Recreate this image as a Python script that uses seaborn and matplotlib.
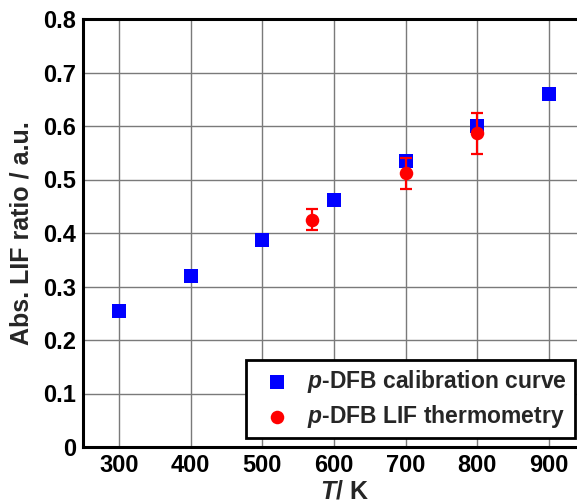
import matplotlib
matplotlib.use("Agg")
import matplotlib.pyplot as plt
import seaborn as sns
import pandas as pd

# Calibration curve (absolute LIF ratio vs temperature)
calib_T = [300, 400, 500, 600, 700, 800, 900]
calib_ratio = [0.255, 0.320, 0.386, 0.462, 0.535, 0.600, 0.660]

# LIF thermometry measurements with uncertainty
thermo_T = [570, 700, 800]
thermo_ratio = [0.425, 0.512, 0.586]
thermo_err = [0.020, 0.029, 0.039]

x_ticks = [300, 400, 500, 600, 700, 800, 900]
y_ticks = [0, 0.1, 0.2, 0.3, 0.4, 0.5, 0.6, 0.7, 0.8]
y_ticklabels = ["0", "0.1", "0.2", "0.3", "0.4", "0.5", "0.6", "0.7", "0.8"]

sns.set_style("white")
plt.rcParams["font.family"] = ["Liberation Sans", "DejaVu Sans"]
plt.rcParams["font.weight"] = "bold"
plt.rcParams["mathtext.fontset"] = "custom"
plt.rcParams["mathtext.it"] = "Liberation Sans:bold:italic"
plt.rcParams["mathtext.rm"] = "Liberation Sans:bold"
plt.rcParams["mathtext.bf"] = "Liberation Sans:bold"

W, H = 577, 503
fig = plt.figure(figsize=(W / 100, H / 100), dpi=100)
# axes runs past the right edge of the figure; x scale ~0.717 px per K
x_lo, x_hi = 250, 980
left_px, bottom_px, top_px = 83, 447, 19
width_px = (x_hi - x_lo) * 0.717
ax = fig.add_axes([left_px / W, 1 - bottom_px / H, width_px / W, (bottom_px - top_px) / H])

df_cal = pd.DataFrame({"T": calib_T, "ratio": calib_ratio})
df_th = pd.DataFrame({"T": thermo_T, "ratio": thermo_ratio, "err": thermo_err})

ax.set_axisbelow(True)
ax.grid(True, color="#7a7a7a", linewidth=1.0)

sns.scatterplot(data=df_cal, x="T", y="ratio", marker="s", s=100, color="#0000ff",
                edgecolor="#0000ff", linewidth=0, ax=ax, zorder=3,
                label=r"$\mathit{p}$-DFB calibration curve")
ax.errorbar(df_th["T"], df_th["ratio"], yerr=df_th["err"], fmt="none",
            ecolor="#ff0000", elinewidth=1.6, capsize=4.5, capthick=1.6, zorder=4)
sns.scatterplot(data=df_th, x="T", y="ratio", marker="o", s=95, color="#ff0000",
                edgecolor="#ff0000", linewidth=0, ax=ax, zorder=5,
                label=r"$\mathit{p}$-DFB LIF thermometry")

ax.set_xlim(x_lo, x_hi)
ax.set_ylim(0, 0.8)
ax.set_xticks(x_ticks)
ax.set_yticks(y_ticks)
ax.set_yticklabels(y_ticklabels)
ax.tick_params(axis="both", direction="in", length=4, width=1, labelsize=17,
               pad=5, colors="black")
for lab in ax.get_xticklabels() + ax.get_yticklabels():
    lab.set_fontweight("bold")

for name, sp in ax.spines.items():
    sp.set_visible(name != "right")
    sp.set_color("black")
    sp.set_linewidth(2.2)

ax.set_xlabel(r"$\mathit{T}$/ K", fontsize=18, fontweight="bold", labelpad=2)
ax.set_ylabel("Abs. LIF ratio / a.u.", fontsize=18, fontweight="bold", labelpad=7)

leg = ax.legend(loc="lower right", bbox_to_anchor=(575 / W, 1 - 438 / H),
                bbox_transform=fig.transFigure, borderaxespad=0, frameon=True,
                fancybox=False, edgecolor="black", framealpha=1,
                prop={"weight": "bold", "size": 16.5}, handletextpad=0.3,
                borderpad=0.35, labelspacing=0.35, handlelength=2.0)
leg.get_frame().set_linewidth(2.0)

fig.savefig("out.png", dpi=100)
